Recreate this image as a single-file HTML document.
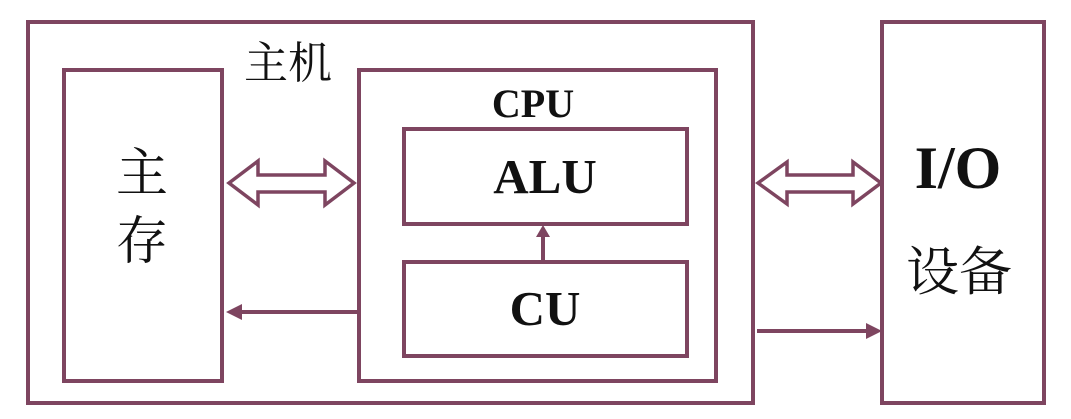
<!DOCTYPE html>
<html><head><meta charset="utf-8"><style>
html,body{margin:0;padding:0;background:#fff;width:1071px;height:419px;overflow:hidden}
svg{display:block}
.cn{font-family:"Liberation Serif","Noto Serif CJK SC",serif;fill:#111}
.en{font-family:"Liberation Serif",serif;font-weight:bold;fill:#111}
</style></head><body>
<svg width="1071" height="419" viewBox="0 0 1071 419" xmlns="http://www.w3.org/2000/svg">
<g fill="none" stroke="#7e4560" stroke-width="4">
<rect x="28" y="22" width="725" height="381"/>
<rect x="64" y="70" width="158" height="311"/>
<rect x="359" y="70" width="357" height="311"/>
<rect x="404" y="129" width="283" height="95"/>
<rect x="404" y="262" width="283" height="94"/>
<rect x="882" y="22" width="162" height="381"/>
<!-- double arrows -->
<polygon stroke-width="3.5" points="229,183 258,161 258,175 325,175 325,161 354,183 325,205 325,192 258,192 258,205"/>
<polygon stroke-width="3.5" points="758,183 787,162 787,175 853,175 853,162 881,183 853,204 853,192 787,192 787,204"/>
<!-- single arrows -->
<line x1="357" y1="312" x2="232" y2="312"/>
<line x1="757" y1="331" x2="876" y2="331"/>
<line x1="543" y1="261" x2="543" y2="230"/>
</g>
<g fill="#7e4560">
<polygon points="226,312 242,304 242,320"/>
<polygon points="882,331 866,323 866,339"/>
<polygon points="543,225 536,237 550,237"/>
</g>
<text class="cn" x="288" y="78" font-size="44" text-anchor="middle">主机</text>
<text class="cn" x="142" y="191" font-size="52" text-anchor="middle">主</text>
<text class="cn" x="142" y="259" font-size="52" text-anchor="middle">存</text>
<text class="en" x="533" y="117" font-size="40" text-anchor="middle">CPU</text>
<text class="en" x="545" y="193" font-size="49" text-anchor="middle">ALU</text>
<text class="en" x="545" y="325" font-size="49" text-anchor="middle">CU</text>
<text class="en" x="958" y="188" font-size="60" text-anchor="middle">I/O</text>
<text class="cn" x="959" y="290" font-size="53" text-anchor="middle">设备</text>
</svg>
</body></html>
